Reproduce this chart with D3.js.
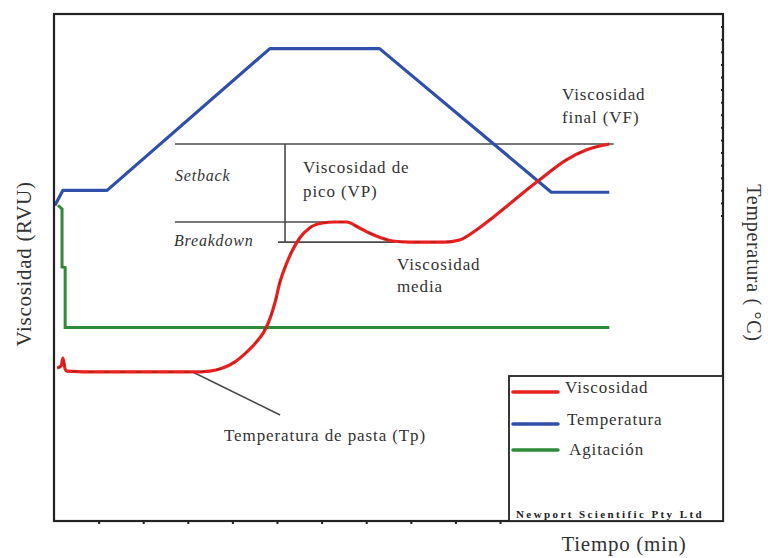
<!DOCTYPE html>
<html>
<head>
<meta charset="utf-8">
<script src="https://cdn.jsdelivr.net/npm/d3@7"></script>
<style>
  body { margin: 0; background: #fff; }
  svg { display: block; }
  text { font-family: "Liberation Serif", "Times New Roman", serif; fill: #333; }
</style>
</head>
<body>
<svg id="chart" width="768" height="558"></svg>
<script>
// Viscosity profile (RVU) over time (min)
const viscTime = [0.07, 0.16, 0.20, 0.25, 0.29, 1.03, 2.15, 3.11, 3.49, 3.78, 4.05, 4.32, 4.52, 4.70, 4.84, 4.96, 5.06, 5.22, 5.35, 5.51, 5.73, 6.02, 6.29, 6.56, 6.81, 7.07, 7.34, 7.59, 7.97, 8.35, 8.75, 9.09, 9.47, 9.83, 10.16, 10.43, 10.88, 11.48, 11.93, 12.45];
const viscRVU  = [120.7, 122.3, 128.6, 119.9, 118.3, 117.6, 117.6, 117.6, 118.3, 120.7, 125.4, 133.3, 140.5, 148.8, 159.5, 173.0, 187.8, 203.6, 213.8, 223.3, 231.2, 235.1, 235.9, 235.9, 232.0, 227.2, 223.3, 220.9, 220.0, 220.0, 220.0, 221.7, 229.6, 239.1, 248.5, 256.4, 269.0, 284.8, 292.7, 297.4];

// Temperature programme (°C)
const tempTime = [0.02, 0.20, 1.19, 4.84, 7.30, 11.15, 12.45];
const tempC    = [45.2, 50.0, 50.0, 95.0, 95.0, 49.4, 49.4];

// Paddle speed (rpm)
const agitTime = [0.09, 0.16, 0.18, 0.18, 0.25, 0.25, 12.45];
const agitRPM  = [975, 955, 950, 563, 560, 160, 160];

// Reference levels used by the annotations (RVU)
const levelNames  = ["VF", "VP", "VM"];
const levelValues = [297.4, 235.9, 220.0];
const pastingTime = 3.11;
const pastingVisc = 117.6;

const timeTicks = [1, 2, 3, 4, 5, 6, 7, 8, 9, 10];
const tempTicks = [42, 46, 50, 54, 58, 62, 66, 70, 74, 78, 82, 86, 90, 94, 98, 102];

const legendNames  = ["Viscosidad", "Temperatura", "Agitación"];
const legendColors = ["#e8201f", "#2f4fa8", "#2f8a3a"];

// ---- layout ----
const svg = d3.select("#chart");
const M = { left: 54, top: 14 };
const W = 669, H = 507;
const g = svg.append("g").attr("transform", `translate(${M.left},${M.top})`);

const x = d3.scaleLinear().domain([0, 15]).range([0, W]);
const yVisc = d3.scaleLinear().domain([0, 400]).range([H, 0]);
const yTemp = d3.scaleLinear().domain([-55, 106]).range([H, 0]);
const yAgit = d3.scaleLinear().domain([-1130, 2250]).range([H, 0]);

const level = n => levelValues[levelNames.indexOf(n)];
const ink = "#4a4a4a";

// ---- annotation lines ----
const ann = g.append("g").attr("stroke", ink).attr("stroke-width", 1.6).attr("fill", "none");
ann.append("line")
  .attr("x1", x(2.71)).attr("x2", x(12.55))
  .attr("y1", yVisc(level("VF"))).attr("y2", yVisc(level("VF")));
ann.append("line")
  .attr("x1", x(2.71)).attr("x2", x(6.1))
  .attr("y1", yVisc(level("VP"))).attr("y2", yVisc(level("VP")));
ann.append("line")
  .attr("x1", x(5.02)).attr("x2", x(7.65))
  .attr("y1", yVisc(level("VM"))).attr("y2", yVisc(level("VM")));
ann.append("line")
  .attr("x1", x(5.18)).attr("x2", x(5.18))
  .attr("y1", yVisc(level("VF"))).attr("y2", yVisc(level("VM")));
ann.append("line")
  .attr("x1", x(pastingTime)).attr("y1", yVisc(pastingVisc))
  .attr("x2", x(5.07)).attr("y2", yVisc(83.6));

// ---- series ----
const lineOf = (xs, ys, yScale, curve) => d3.line()
  .x((d, i) => x(xs[i])).y((d, i) => yScale(ys[i])).curve(curve)(xs);

g.append("path")
  .attr("d", lineOf(agitTime, agitRPM, yAgit, d3.curveLinear))
  .attr("fill", "none").attr("stroke", legendColors[2]).attr("stroke-width", 3);

g.append("path")
  .attr("d", lineOf(tempTime, tempC, yTemp, d3.curveLinear))
  .attr("fill", "none").attr("stroke", legendColors[1]).attr("stroke-width", 3.2)
  .attr("stroke-linejoin", "round");

const viscPath = lineOf(viscTime, viscRVU, yVisc, d3.curveMonotoneX);
g.append("path")
  .attr("d", viscPath)
  .attr("fill", "none").attr("stroke", legendColors[0]).attr("stroke-width", 3.2)
  .attr("stroke-linejoin", "round");
// thin dark trace running inside the viscosity curve
g.append("path")
  .attr("d", viscPath)
  .attr("fill", "none").attr("stroke", "#222").attr("stroke-width", 0.9)
  .attr("stroke-dasharray", "5 11").attr("opacity", 0.45);

// ---- frame and axes ----
g.append("rect").attr("width", W).attr("height", H)
  .attr("fill", "none").attr("stroke", "#222").attr("stroke-width", 2.2);

const xAxis = g.append("g").attr("transform", `translate(0,${H})`)
  .call(d3.axisBottom(x).tickValues(timeTicks).tickSize(3).tickFormat(""));
xAxis.select(".domain").remove();
xAxis.selectAll("line").attr("stroke", "#222").attr("stroke-width", 2);

const rAxis = g.append("g").attr("transform", `translate(${W},0)`)
  .call(d3.axisLeft(yTemp).tickValues(tempTicks).tickSize(2).tickFormat(""));
rAxis.select(".domain").remove();
rAxis.selectAll("line").attr("stroke", "#222").attr("stroke-width", 2);

// ---- legend ----
const lg = svg.append("g");
lg.append("rect").attr("x", 509).attr("y", 376).attr("width", 214).attr("height", 145)
  .attr("fill", "#fff").attr("stroke", "#222").attr("stroke-width", 1.8);
const legendY = [392, 424, 450];
const textY = [393, 425, 455];
legendNames.forEach((name, i) => {
  lg.append("line").attr("x1", 513).attr("x2", 558)
    .attr("y1", legendY[i]).attr("y2", legendY[i])
    .attr("stroke", legendColors[i]).attr("stroke-width", 3.5).attr("stroke-linecap", "round");
  lg.append("text").attr("x", 565 + i * 2).attr("y", textY[i])
    .attr("font-size", 17).attr("letter-spacing", 0.9).text(name);
});
lg.append("text").attr("x", 516).attr("y", 518)
  .attr("font-family", "'Liberation Sans', Arial, sans-serif")
  .attr("font-weight", "bold").attr("font-size", 11).attr("letter-spacing", 2.4)
  .style("fill", "#222")
  .text("Newport Scientific Pty Ltd");

// ---- labels ----
const label = (tx, ty, str, opts = {}) => {
  const t = svg.append("text").attr("x", tx).attr("y", ty)
    .attr("font-size", opts.size || 17)
    .attr("letter-spacing", opts.ls != null ? opts.ls : 0.9)
    .text(str);
  if (opts.italic) t.attr("font-style", "italic");
  if (opts.anchor) t.attr("text-anchor", opts.anchor);
  if (opts.rotate != null) t.attr("transform", `rotate(${opts.rotate},${tx},${ty})`);
  return t;
};

label(303, 173, "Viscosidad de");
label(303, 197, "pico (VP)");
label(397, 270, "Viscosidad");
label(397, 292, "media");
label(562, 100, "Viscosidad");
label(562, 123, "final (VF)");
label(175, 181, "Setback", { italic: true, size: 16, ls: 0.8 });
label(174, 246, "Breakdown", { italic: true, size: 16, ls: 0.8 });
label(224, 441, "Temperatura de pasta (Tp)");

label(624, 551, "Tiempo (min)", { size: 21, ls: 0.7, anchor: "middle" });
label(31, 264, "Viscosidad (RVU)", { size: 21, ls: 0.7, anchor: "middle", rotate: -90 });
label(747, 263, "Temperatura ( °C)", { size: 20, ls: 0.7, anchor: "middle", rotate: 90 });
</script>
</body>
</html>
